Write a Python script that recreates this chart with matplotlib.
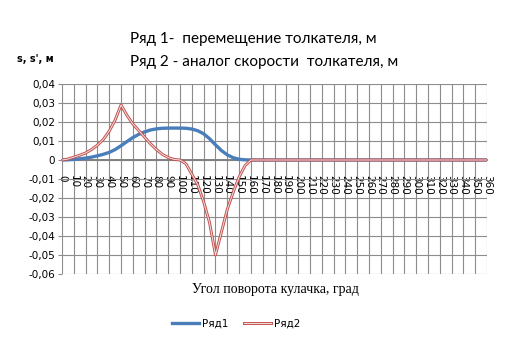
import matplotlib
matplotlib.use("Agg")
import matplotlib.pyplot as plt
import matplotlib.patheffects as pe
from matplotlib.ticker import FuncFormatter

# данные: угол поворота (град), перемещение s и аналог скорости s'
ugol = [0, 5, 10, 15, 20, 25, 30, 35, 40, 45, 50, 55, 60, 65, 70, 75, 80,
        85, 90, 95, 100, 105, 110, 115, 120, 125, 130, 135, 140, 145, 150,
        155, 160, 170, 180, 190, 200, 210, 220, 230, 240, 250, 260, 270,
        280, 290, 300, 310, 320, 330, 340, 350, 360]
ryad1 = [0, 0.0001, 0.0003, 0.0006, 0.001, 0.0015, 0.0022, 0.003, 0.004,
         0.0055, 0.0075, 0.0097, 0.0118, 0.0135, 0.0148, 0.0158, 0.0164,
         0.0167, 0.0168, 0.0168, 0.0168, 0.0167, 0.0163, 0.0154, 0.0138,
         0.0112, 0.008, 0.005, 0.0027, 0.0012, 0.0004, 0.0001, 0,
         0, 0, 0, 0, 0, 0, 0, 0, 0, 0, 0, 0, 0, 0, 0, 0, 0, 0, 0, 0]
ryad2 = [0, 0.0005, 0.0015, 0.0025, 0.0037, 0.0055, 0.0078, 0.0108, 0.0152,
         0.021, 0.029, 0.0235, 0.019, 0.0155, 0.012, 0.0085, 0.0055, 0.003,
         0.0013, 0.0003, 0, -0.002, -0.0075, -0.013, -0.022, -0.033, -0.05,
         -0.038, -0.026, -0.017, -0.009, -0.003, 0,
         0, 0, 0, 0, 0, 0, 0, 0, 0, 0, 0, 0, 0, 0, 0, 0, 0, 0, 0, 0]

xticks = list(range(0, 361, 10))
yticks = [-0.06, -0.05, -0.04, -0.03, -0.02, -0.01, 0, 0.01, 0.02, 0.03, 0.04]

fig = plt.figure(figsize=(5.07, 3.56), dpi=100)
ax = fig.add_axes([62 / 507, 1 - 274 / 356, 425 / 507, 190 / 356])

ax.plot(ugol, ryad1, color="#4a7ebb", lw=2.4, label="Ряд1", zorder=3)
ax.plot(ugol, ryad2, color="#f6e2e1", lw=0.7, label="Ряд2", zorder=4,
        path_effects=[pe.Stroke(linewidth=2.1, foreground="#c0504d"), pe.Normal()])

ax.set_xlim(0, 360)
ax.set_ylim(-0.06, 0.04)
ax.set_xticks(xticks)
ax.set_yticks(yticks)
ax.grid(True, color="#8c8c8c", lw=0.8, zorder=0)

for s in ["top", "right", "left"]:
    ax.spines[s].set_visible(False)
ax.spines["bottom"].set_position(("data", 0))
ax.spines["bottom"].set_color("#808080")
ax.spines["bottom"].set_linewidth(1.4)
ax.spines["bottom"].set_zorder(2)

ax.yaxis.set_major_formatter(FuncFormatter(lambda v, p: ("%.2f" % v).replace(".", ",") if abs(v) > 1e-9 else "0"))
ax.tick_params(axis="y", length=3, color="#8c8c8c", labelsize=7.5, pad=2)
ax.tick_params(axis="x", length=0, labelsize=7.5, pad=10.5)
for lbl in ax.get_xticklabels():
    lbl.set_rotation(-90)
    lbl.set_va("top")
    lbl.set_ha("center")

fig.text(130 / 507, 1 - 39 / 356, "Ряд 1-  перемещение толкателя, м",
         fontsize=11, fontfamily="Lato", va="center", ha="left")
fig.text(130 / 507, 1 - 62 / 356, "Ряд 2 - аналог скорости  толкателя, м",
         fontsize=11, fontfamily="Lato", va="center", ha="left")
fig.text(17 / 507, 1 - 59 / 356, "s, s', м", fontsize=7, fontweight="bold",
         va="center", ha="left")
fig.text(275 / 507, 1 - 290 / 356, "Угол поворота кулачка, град",
         fontsize=10, fontfamily="Liberation Serif", va="center", ha="center")

fig.legend(loc="center", bbox_to_anchor=(236 / 507, 1 - 324 / 356), ncol=2,
           frameon=False, fontsize=7.5, handlelength=2.6, columnspacing=1.5,
           handletextpad=0.3)

fig.savefig("out.png", dpi=100)
